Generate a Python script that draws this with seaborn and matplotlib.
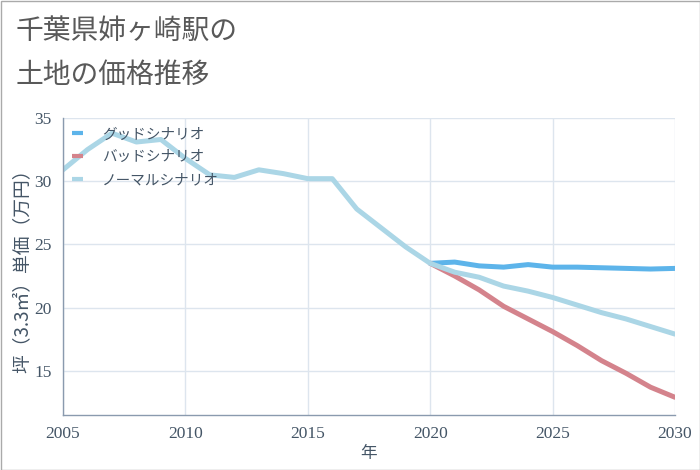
import matplotlib
matplotlib.use("Agg")
import matplotlib.pyplot as plt
import seaborn as sns
import pandas as pd

years_hist = list(range(2005, 2021))
years_fut = list(range(2020, 2031))

normal_hist = [30.9, 32.5, 33.8, 33.1, 33.3, 31.8, 30.5, 30.3, 30.9, 30.6,
               30.2, 30.2, 27.8, 26.3, 24.8, 23.5]
good_fut = [23.5, 23.6, 23.3, 23.2, 23.4, 23.2, 23.2, 23.15, 23.1, 23.05, 23.1]
bad_fut = [23.5, 22.5, 21.4, 20.1, 19.1, 18.1, 17.0, 15.8, 14.8, 13.7, 12.9]
normal_fut = [23.5, 22.8, 22.4, 21.7, 21.3, 20.8, 20.2, 19.6, 19.1, 18.5, 17.9]

labels = ["グッドシナリオ", "バッドシナリオ", "ノーマルシナリオ"]
colors = ["#5db4ea", "#d4838c", "#abd6e6"]

rows = []
for y, v in zip(years_fut, good_fut):
    rows.append((y, v, labels[0]))
for y, v in zip(years_fut, bad_fut):
    rows.append((y, v, labels[1]))
for y, v in zip(years_hist[:-1] + years_fut, normal_hist[:-1] + normal_fut):
    rows.append((y, v, labels[2]))
df = pd.DataFrame(rows, columns=["year", "value", "scenario"])

sns.set_style("white")
plt.rcParams["font.family"] = ["Noto Sans CJK JP", "DejaVu Sans"]

fig = plt.figure(figsize=(7, 4.7), dpi=100)
ax = fig.add_axes([63 / 700, 55 / 470, 612 / 700, 297 / 470])

sns.lineplot(data=df, x="year", y="value", hue="scenario", hue_order=labels,
             palette=colors, linewidth=3.6, ax=ax, sort=True)

ax.set_xlim(2005, 2030)
ax.set_ylim(11.5, 35)
ax.set_xticks([2005, 2010, 2015, 2020, 2025, 2030])
ax.set_yticks([15, 20, 25, 30, 35])
ax.grid(True, color="#dde5ee", linewidth=1)
for s in ["top", "right"]:
    ax.spines[s].set_visible(False)
for s in ["left", "bottom"]:
    ax.spines[s].set_color("#8a9aae")
    ax.spines[s].set_linewidth(1)
ax.tick_params(axis="both", colors="#c8d2de", labelcolor="#445566",
               length=3, width=1, pad=5)
for lab in ax.get_xticklabels() + ax.get_yticklabels():
    lab.set_family("Liberation Serif")
    lab.set_fontsize(12.5)
ax.set_xlabel("年", color="#445566", fontsize=12, labelpad=2)
ax.set_ylabel("坪（3.3㎡）単価（万円）", color="#445566", fontsize=13.5)
ax.yaxis.set_label_coords(-30 / 612, 0.5)

leg = ax.legend(loc="upper left", frameon=False, fontsize=10.5,
                handlelength=0.75, handletextpad=1.3, borderaxespad=0.25,
                labelspacing=0.6, borderpad=0.4)
for line in leg.get_lines():
    line.set_linewidth(3)
    line.set_solid_capstyle("butt")
for t in leg.get_texts():
    t.set_color("#445566")

fig.text(16 / 700, 1 - 31 / 470, "千葉県姉ヶ崎駅の", fontsize=20,
         color="#595959", va="center")
fig.text(16 / 700, 1 - 75 / 470, "土地の価格推移", fontsize=20,
         color="#595959", va="center")

border = plt.Rectangle((0.5 / 700, 0.5 / 470), 1 - 1 / 700, 1 - 1 / 470,
                       transform=fig.transFigure, fill=False,
                       edgecolor="#aaaaaa", linewidth=1)
fig.patches.append(border)

fig.savefig("out.png", dpi=100)
